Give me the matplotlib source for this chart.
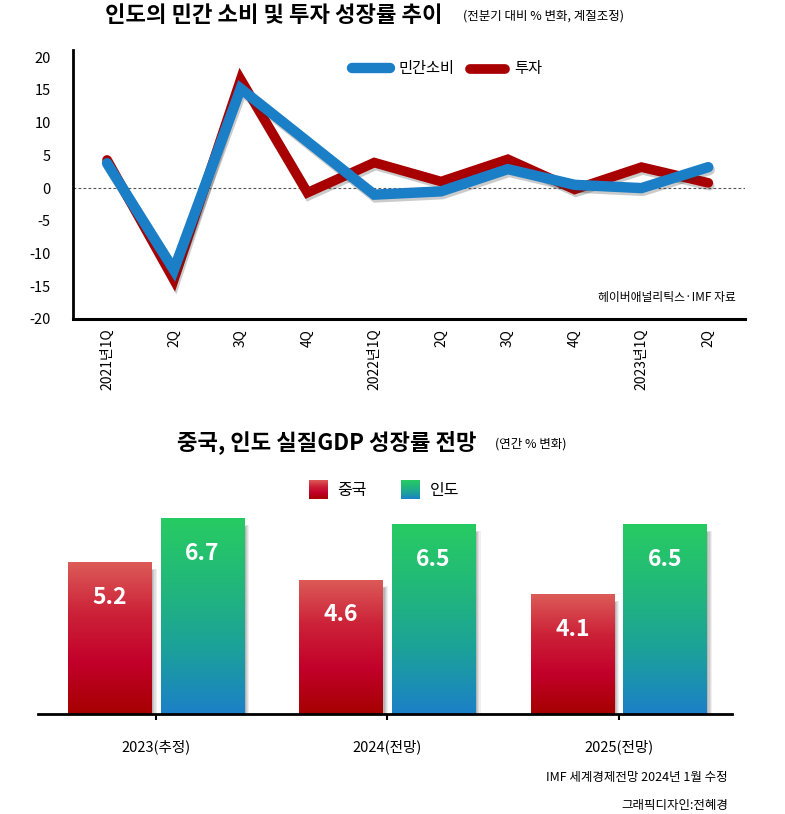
import numpy as np
import matplotlib
matplotlib.use('Agg')
import matplotlib.pyplot as plt
import matplotlib.patheffects as pe
from matplotlib.colors import LinearSegmentedColormap
from matplotlib.patches import Rectangle

plt.rcParams['font.family'] = ['Noto Sans CJK KR', 'DejaVu Sans']

# Top chart data (quarter-on-quarter % change, seasonally adjusted)
quarters = ['2021년1Q', '2Q', '3Q', '4Q', '2022년1Q', '2Q', '3Q', '4Q', '2023년1Q', '2Q']
consumption = [3.8, -12.5, 15.2, 7.1, -1.0, -0.5, 2.9, 0.5, 0.0, 3.2]
investment = [4.3, -14.0, 16.6, -0.7, 3.9, 1.0, 4.4, -0.2, 3.2, 0.8]

# Bottom chart data (annual real GDP growth, %)
years = ['2023(추정)', '2024(전망)', '2025(전망)']
china = [5.2, 4.6, 4.1]
india = [6.7, 6.5, 6.5]

W, H = 785, 814
fig = plt.figure(figsize=(W / 100, H / 100), dpi=100)


def fbox(x0, y0, x1, y1):
    # pixel box (top-left origin) -> figure fraction rect
    return [x0 / W, 1 - y1 / H, (x1 - x0) / W, (y1 - y0) / H]


# ---------------- top chart ----------------
ax1 = fig.add_axes(fbox(73, 50, 745, 319))
x = np.arange(len(quarters))
shadow = [pe.SimpleLineShadow(offset=(1, -2), shadow_color='#333333', alpha=0.25), pe.Normal()]
ax1.axhline(0, color='#555555', lw=0.8, ls=(0, (2.5, 2)), zorder=1)
ax1.plot(x, investment, color='#a80000', lw=7, solid_capstyle='round',
         solid_joinstyle='miter', path_effects=shadow, zorder=2, label='투자')
ax1.plot(x, consumption, color='#1b7fc7', lw=7.5, solid_capstyle='round',
         solid_joinstyle='miter', path_effects=shadow, zorder=3, label='민간소비')
ax1.set_xlim(-0.51, 9.55)
ax1.set_ylim(-20, 21.1)
ax1.set_yticks(range(-20, 21, 5))
ax1.set_yticklabels([str(v) for v in range(-20, 21, 5)], fontsize=10.5)
ax1.set_xticks(x)
ax1.set_xticklabels(quarters, rotation=90, fontsize=10, va='top')
ax1.tick_params(length=0)
ax1.tick_params(axis='y', pad=16)
ax1.tick_params(axis='x', pad=7)
for s in ['top', 'right']:
    ax1.spines[s].set_visible(False)
ax1.spines['left'].set_linewidth(2)
ax1.spines['bottom'].set_linewidth(2.2)

# legend (manual)
fig.add_artist(plt.Line2D([352 / W, 390 / W], [1 - 68 / H] * 2, color='#1b7fc7', lw=7.5,
                          solid_capstyle='round'))
fig.text(398 / W, 1 - 68 / H, '민간소비', fontsize=11, va='center', ha='left')
fig.add_artist(plt.Line2D([470 / W, 505 / W], [1 - 69 / H] * 2, color='#a80000', lw=7,
                          solid_capstyle='round'))
fig.text(514 / W, 1 - 69 / H, '투자', fontsize=11, va='center', ha='left')

fig.text(736 / W, 1 - 297 / H, '헤이버애널리틱스·IMF 자료', fontsize=8.5, ha='right', va='center')

fig.text(105 / W, 1 - 16 / H, '인도의 민간 소비 및 투자 성장률 추이', fontsize=16,
         fontweight='bold', ha='left', va='center')
fig.text(463 / W, 1 - 16 / H, '(전분기 대비 % 변화, 계절조정)', fontsize=9, ha='left', va='center')

# ---------------- bottom chart ----------------
ax2 = fig.add_axes(fbox(38, 500, 732, 714))
ax2.set_xlim(-0.51, 2.49)
ax2.set_ylim(0, 7.33)

cm_china = LinearSegmentedColormap.from_list('china', ['#a50000', '#c2002a', '#cc2238', '#dc5b58'])
cm_india = LinearSegmentedColormap.from_list('india', ['#1c80c8', '#1ba19a', '#22b87a', '#27cb62'])
grad = np.linspace(0, 1, 256).reshape(-1, 1)
bw = 0.36
gx = np.arange(len(years))
for vals, offset, cmap in [(china, -0.2, cm_china), (india, 0.2, cm_india)]:
    bars = ax2.bar(gx + offset, vals, width=bw, color='none', zorder=3)
    for b, v in zip(bars, vals):
        x0 = b.get_x()
        # soft drop shadow to the right
        for k, a in enumerate([0.08, 0.10, 0.12, 0.16]):
            w = 0.028 - k * 0.005
            ax2.add_patch(Rectangle((x0 + bw - 0.005, 0), w, v - 0.22 - k * 0.02,
                                    color='#444444', alpha=a, lw=0, zorder=2))
        im = ax2.imshow(grad, extent=[x0, x0 + bw, 0, v], origin='lower', aspect='auto',
                        cmap=cmap, zorder=3)
        im.set_clip_path(b)
        ax2.text(x0 + bw / 2, v - 1.2, f'{v:.1f}', color='white', fontsize=16.5,
                 fontweight='bold', ha='center', va='center', zorder=4)

ax2.set_xticks(gx)
ax2.set_xticklabels(years, fontsize=10.5)
ax2.tick_params(axis='x', length=4, width=1.5, pad=14)
ax2.set_yticks([])
for s in ['top', 'right', 'left']:
    ax2.spines[s].set_visible(False)
ax2.spines['bottom'].set_linewidth(2)
ax2.spines['bottom'].set_zorder(5)

# legend swatches
for (x0, cmap, label, tx) in [(309, cm_china, '중국', 337), (401, cm_india, '인도', 430)]:
    lax = fig.add_axes(fbox(x0, 480, x0 + 19, 499))
    lax.imshow(grad, origin='lower', aspect='auto', cmap=cmap)
    lax.axis('off')
    fig.text(tx / W, 1 - 490 / H, label, fontsize=11.5, ha='left', va='center')

fig.text(177 / W, 1 - 442 / H, '중국, 인도 실질GDP 성장률 전망', fontsize=16,
         fontweight='bold', ha='left', va='center')
fig.text(495 / W, 1 - 444 / H, '(연간 % 변화)', fontsize=9, ha='left', va='center')

fig.text(728 / W, 1 - 778 / H, 'IMF 세계경제전망 2024년 1월 수정', fontsize=9, ha='right', va='center')
fig.text(728 / W, 1 - 806 / H, '그래픽디자인:전혜경', fontsize=9, ha='right', va='center')

fig.savefig('out.png', dpi=100)
